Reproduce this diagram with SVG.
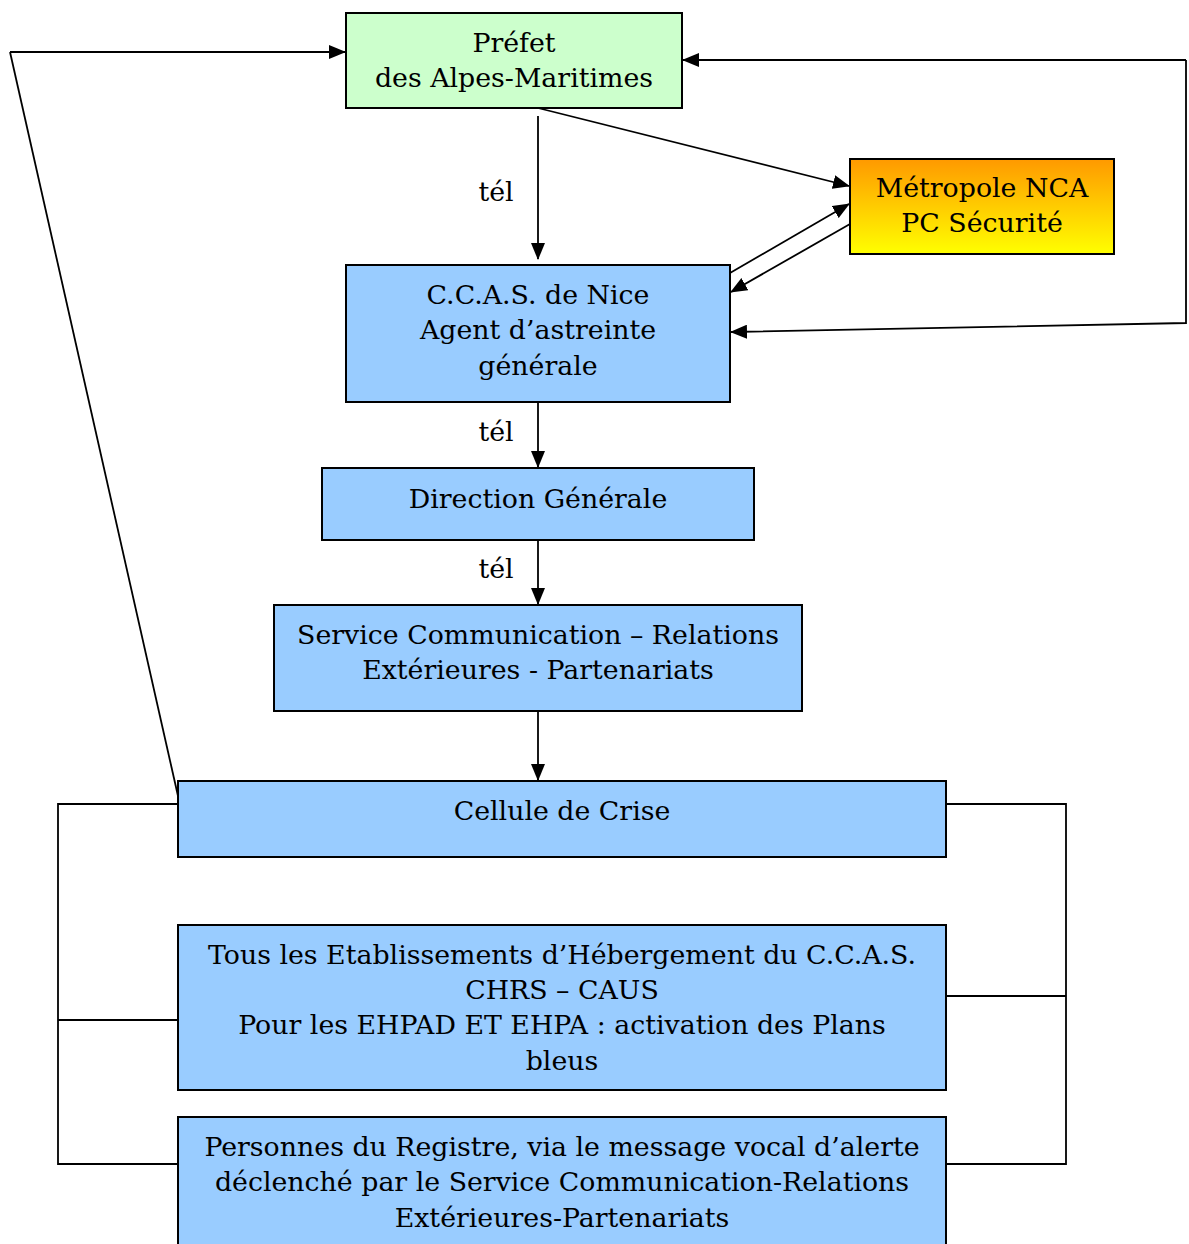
<svg xmlns="http://www.w3.org/2000/svg" width="1189" height="1244" viewBox="0 0 1189 1244">
<style>
.box{stroke:#000;stroke-width:2}
.blue{fill:#99CCFF}
.green{fill:#CCFFCC}
.t{font-family:"DejaVu Serif","Liberation Serif",serif;font-size:26.8px;fill:#000;text-anchor:middle}
.c{fill:none;stroke:#000;stroke-width:1.8}
</style>
<defs>
<linearGradient id="og" x1="0" y1="0" x2="0" y2="1">
<stop offset="0" stop-color="#FF9900"/>
<stop offset="1" stop-color="#FFFF00"/>
</linearGradient>
<marker id="ah" markerUnits="userSpaceOnUse" markerWidth="17" markerHeight="14" refX="16" refY="7" orient="auto">
<path d="M0,0 L17,7 L0,14 Z" fill="#000"/>
</marker>
</defs>
<g id="connectors">
<line class="c" x1="538" y1="116" x2="538" y2="259" marker-end="url(#ah)"/>
<line class="c" x1="538" y1="108" x2="849" y2="186" marker-end="url(#ah)"/>
<line class="c" x1="730" y1="273" x2="849" y2="204" marker-end="url(#ah)"/>
<line class="c" x1="850" y1="224" x2="731" y2="292" marker-end="url(#ah)"/>
<polyline class="c" points="1186,60 1186,323 731,332" marker-end="url(#ah)"/>
<line class="c" x1="1186" y1="60" x2="683" y2="60" marker-end="url(#ah)"/>
<line class="c" x1="10" y1="52" x2="345" y2="52" marker-end="url(#ah)"/>
<line class="c" x1="10" y1="52" x2="178" y2="796"/>
<line class="c" x1="538" y1="390" x2="538" y2="467" marker-end="url(#ah)"/>
<line class="c" x1="538" y1="540" x2="538" y2="604" marker-end="url(#ah)"/>
<line class="c" x1="538" y1="711" x2="538" y2="780" marker-end="url(#ah)"/>
<polyline class="c" points="178,804 58,804 58,1164 178,1164"/>
<line class="c" x1="58" y1="1020" x2="178" y2="1020"/>
<polyline class="c" points="946,804 1066,804 1066,1164 946,1164"/>
<line class="c" x1="946" y1="996" x2="1066" y2="996"/>
<text class="t" x="496" y="201">tél</text>
<text class="t" x="496" y="441">tél</text>
<text class="t" x="496" y="578">tél</text>
</g>
<g id="prefet">
<rect class="box green" x="346" y="13" width="336" height="95"/>
<text class="t" x="514" y="52">Préfet</text>
<text class="t" x="514" y="87">des Alpes-Maritimes</text>
</g>
<g id="metropole">
<rect class="box" fill="url(#og)" x="850" y="159" width="264" height="95"/>
<text class="t" x="982" y="197">Métropole NCA</text>
<text class="t" x="982" y="232">PC Sécurité</text>
</g>
<g id="ccas">
<rect class="box blue" x="346" y="265" width="384" height="137"/>
<text class="t" x="538" y="304">C.C.A.S. de Nice</text>
<text class="t" x="538" y="339">Agent d’astreinte</text>
<text class="t" x="538" y="375">générale</text>
</g>
<g id="direction">
<rect class="box blue" x="322" y="468" width="432" height="72"/>
<text class="t" x="538" y="508">Direction Générale</text>
</g>
<g id="service">
<rect class="box blue" x="274" y="605" width="528" height="106"/>
<text class="t" x="538" y="644">Service Communication – Relations</text>
<text class="t" x="538" y="679">Extérieures - Partenariats</text>
</g>
<g id="cellule">
<rect class="box blue" x="178" y="781" width="768" height="76"/>
<text class="t" x="562" y="820">Cellule de Crise</text>
</g>
<g id="etablissements">
<rect class="box blue" x="178" y="925" width="768" height="165"/>
<text class="t" x="562" y="964">Tous les Etablissements d’Hébergement du C.C.A.S.</text>
<text class="t" x="562" y="999">CHRS – CAUS</text>
<text class="t" x="562" y="1034">Pour les EHPAD ET EHPA : activation des Plans</text>
<text class="t" x="562" y="1070">bleus</text>
</g>
<g id="personnes">
<rect class="box blue" x="178" y="1117" width="768" height="140"/>
<text class="t" x="562" y="1156">Personnes du Registre, via le message vocal d’alerte</text>
<text class="t" x="562" y="1191">déclenché par le Service Communication-Relations</text>
<text class="t" x="562" y="1227">Extérieures-Partenariats</text>
</g>
</svg>
